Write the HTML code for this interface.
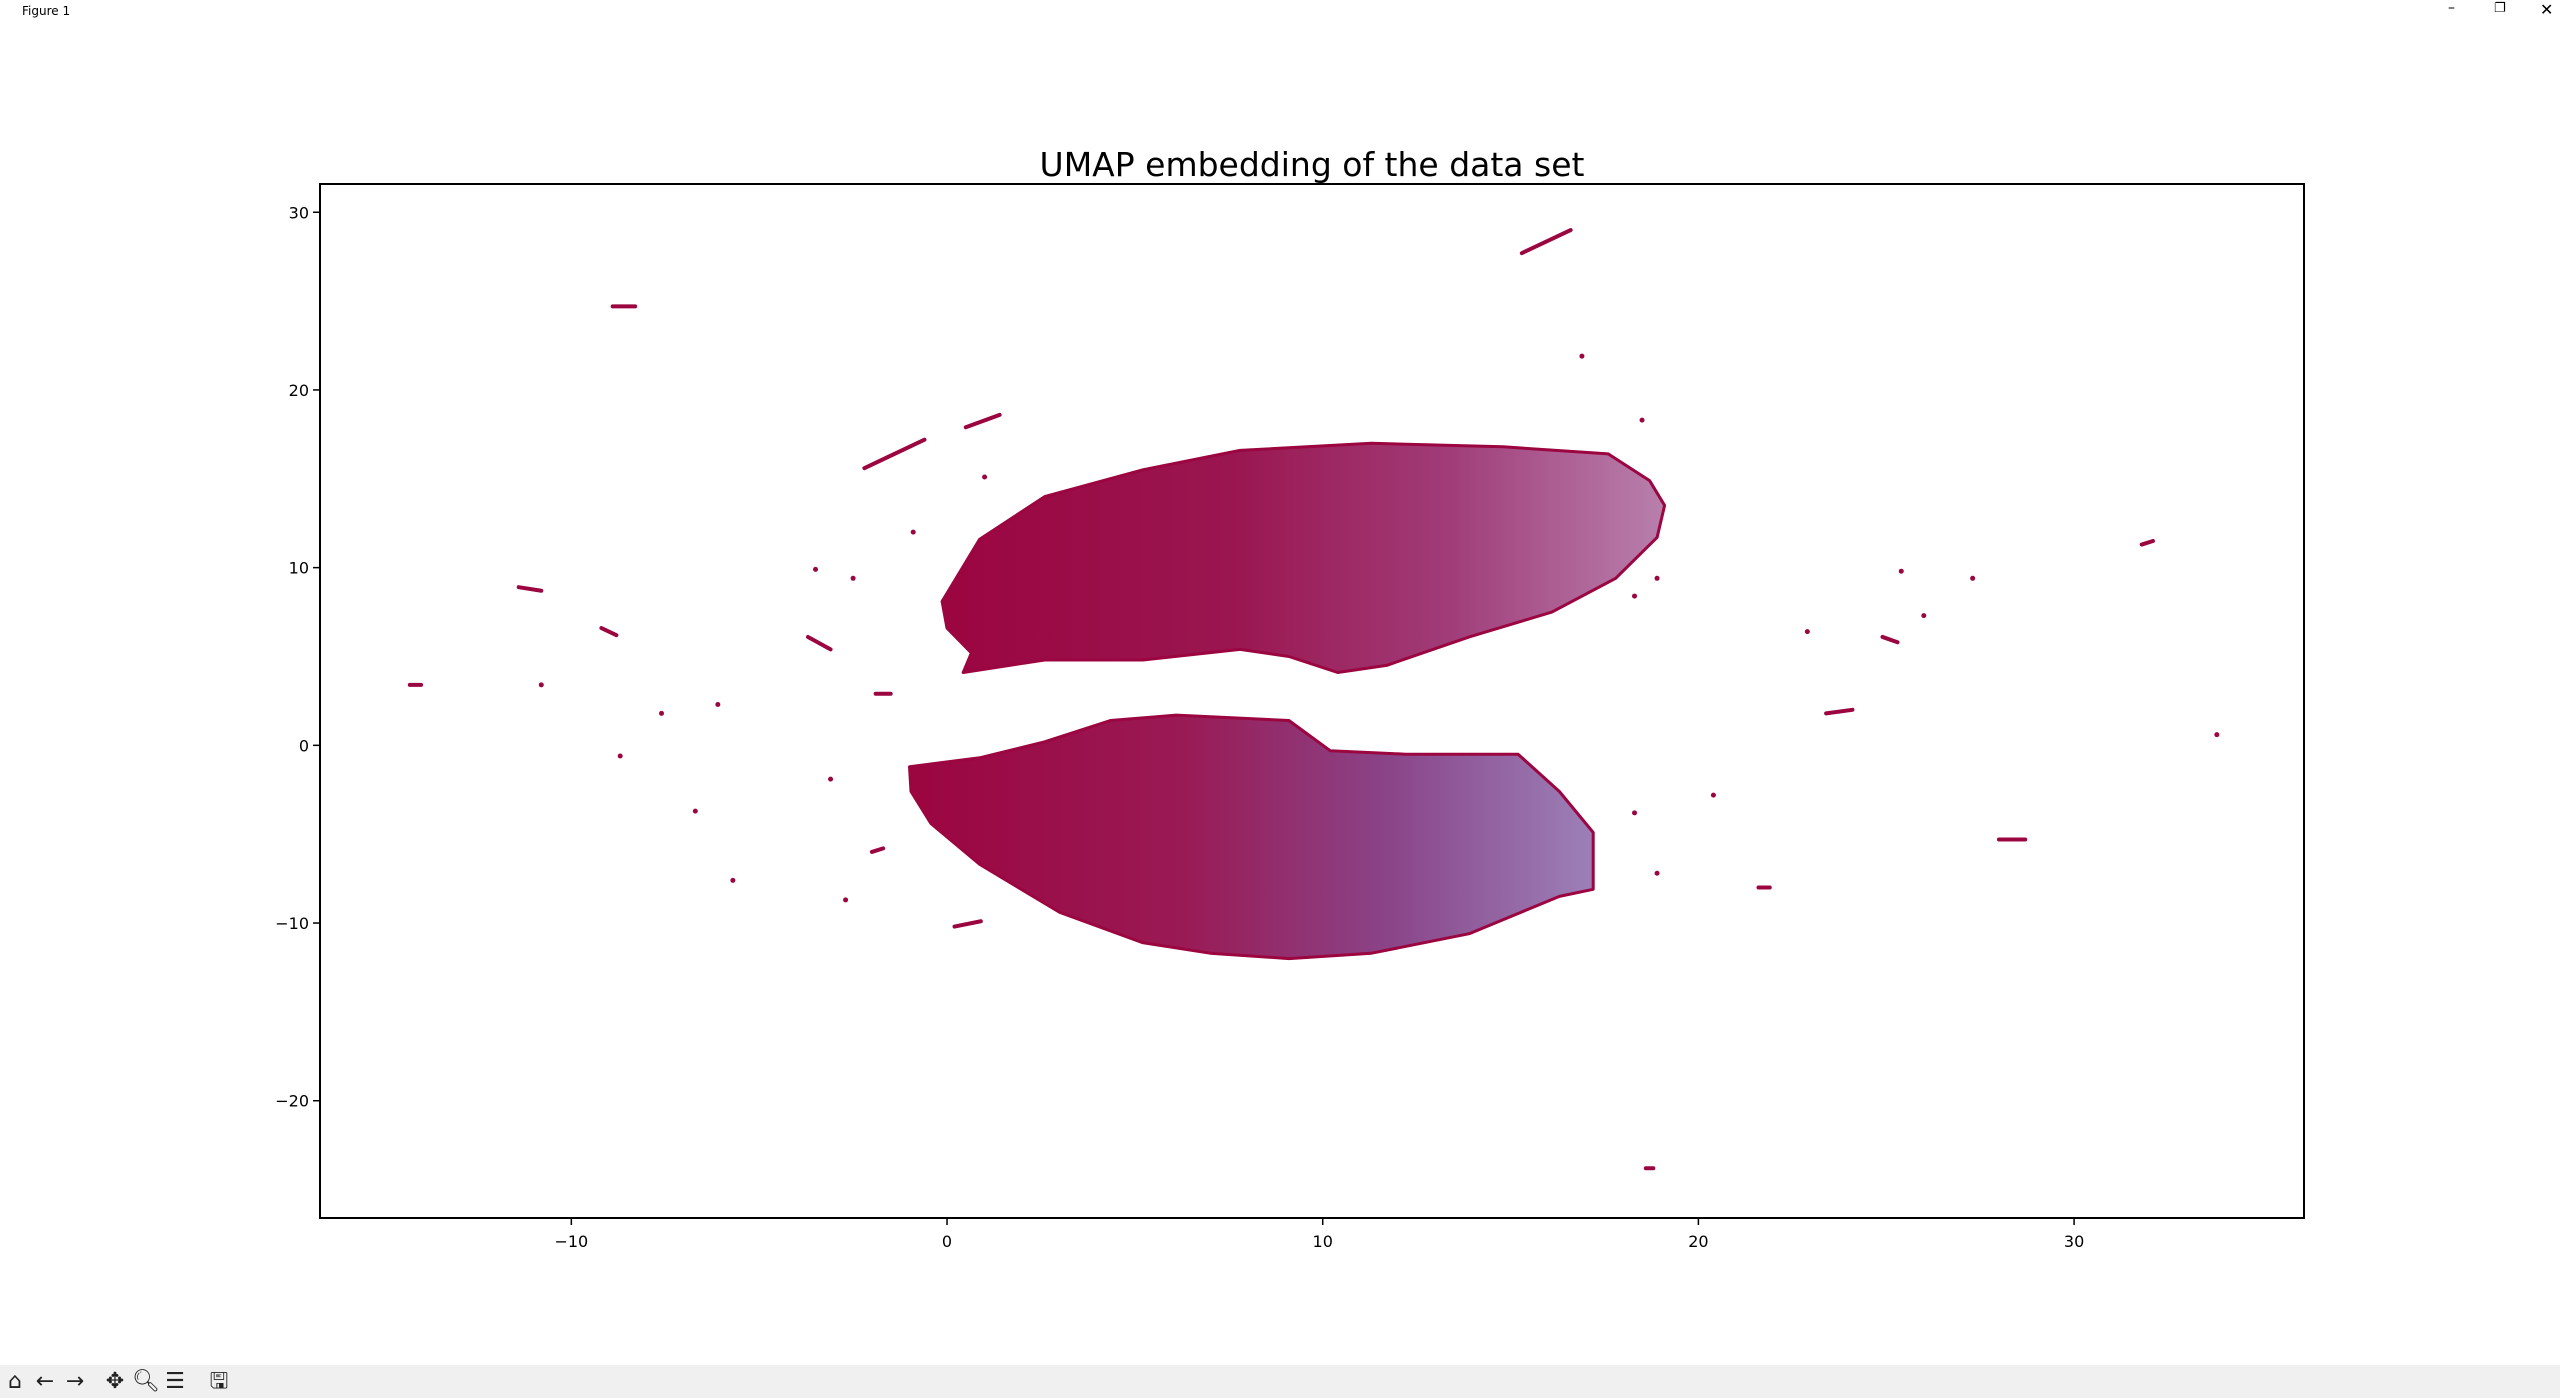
<!DOCTYPE html>
<html><head><meta charset="utf-8"><style>
html,body{margin:0;padding:0;background:#fff;width:2560px;height:1398px;overflow:hidden;font-family:"DejaVu Sans","Liberation Sans",sans-serif}
#titlebar{position:absolute;left:0;top:0;width:2560px;height:24px;background:#fff}
#toolbar{position:absolute;left:0;top:1365px;width:2560px;height:33px;background:#f0f0f0}
.tb{position:absolute;top:4px;width:26px;height:26px;font-size:22px;line-height:26px;text-align:center;color:#222}
</style></head><body>
<div id="titlebar">
 <span style="position:absolute;left:22px;top:4px;font-size:12px;color:#000">Figure 1</span>
 <span style="position:absolute;left:2448px;top:0;font-size:14px">–</span>
 <span style="position:absolute;left:2494px;top:1px;font-size:13px">❐</span>
 <span style="position:absolute;left:2540px;top:0;font-size:16px">✕</span>
</div>
<svg id="chart" width="2560" height="1398" style="position:absolute;left:0;top:0">
 <defs>
  <linearGradient id="gu" x1="0" x2="1" y1="0" y2="0">
   <stop offset="0" stop-color="#9b0540"/><stop offset="0.4" stop-color="#9a1650"/>
   <stop offset="0.7" stop-color="#a03c78"/><stop offset="1" stop-color="#b880ac"/>
  </linearGradient>
  <linearGradient id="gl" x1="0" x2="1" y1="0" y2="0">
   <stop offset="0" stop-color="#9b0540"/><stop offset="0.4" stop-color="#9a1a55"/>
   <stop offset="0.7" stop-color="#8a4488"/><stop offset="1" stop-color="#9c80b8"/>
  </linearGradient>
 </defs>
 <text x="1312" y="176" font-size="33" text-anchor="middle" fill="#000">UMAP embedding of the data set</text>
 <g id="marks"></g>
 <g id="axes"></g>
</svg>
<div id="toolbar">
 <div class="tb" style="left:2px">⌂</div>
 <div class="tb" style="left:32px">←</div>
 <div class="tb" style="left:62px">→</div>
 <div class="tb" style="left:102px">✥</div>
 <div class="tb" style="left:132px">🔍︎</div>
 <div class="tb" style="left:162px">☰</div>
 <div class="tb" style="left:206px">🖫</div>
</div>
<script>
const xTicks=[-10,0,10,20,30];
const yTicks=[-20,-10,0,10,20,30];
const upperBlobX=[-0.13,0.87,2.6,5.2,7.8,11.3,14.8,17.6,18.7,19.1,18.9,17.8,16.1,13.9,11.7,10.4,9.1,7.8,5.2,2.6,0.43,0.65,0];
const upperBlobY=[8.1,11.6,14,15.5,16.6,17,16.8,16.4,14.9,13.5,11.7,9.4,7.5,6.1,4.5,4.1,5.0,5.4,4.8,4.8,4.1,5.2,6.6];
const lowerBlobX=[-1.0,0.87,2.6,4.35,6.1,9.1,10.2,12.2,15.2,16.3,17.2,17.2,16.3,13.9,11.3,9.1,7.0,5.2,3.0,0.87,-0.43,-0.96];
const lowerBlobY=[-1.2,-0.7,0.2,1.4,1.7,1.4,-0.3,-0.5,-0.5,-2.6,-4.9,-8.1,-8.5,-10.6,-11.7,-12.0,-11.7,-11.1,-9.4,-6.7,-4.4,-2.6];
const segX1=[-8.9,15.3,0.5,-2.2,-11.4,-9.2,-3.7,-14.3,-1.9,-2.0,0.2,31.8,28.0,23.4,24.9,21.6,18.6];
const segY1=[24.7,27.7,17.9,15.6,8.9,6.6,6.1,3.4,2.9,-6.0,-10.2,11.3,-5.3,1.8,6.1,-8.0,-23.8];
const segX2=[-8.3,16.6,1.4,-0.6,-10.8,-8.8,-3.1,-14.0,-1.5,-1.7,0.9,32.1,28.7,24.1,25.3,21.9,18.8];
const segY2=[24.7,29.0,18.6,17.2,8.7,6.2,5.4,3.4,2.9,-5.8,-9.9,11.5,-5.3,2.0,5.8,-8.0,-23.8];
const ptX=[16.9,18.5,1.0,-0.9,-3.5,-2.5,-10.8,-7.6,-6.1,-8.7,-6.7,-5.7,-3.1,-2.7,33.8,22.9,25.4,26.0,27.3,20.4,18.9,18.3,18.9,18.3];
const ptY=[21.9,18.3,15.1,12.0,9.9,9.4,3.4,1.8,2.3,-0.6,-3.7,-7.6,-1.9,-8.7,0.6,6.4,9.8,7.3,9.4,-2.8,-7.2,-3.8,9.4,8.4];

const L=320,R=2304,T=184,B=1218,X0=-16.69,X1=36.12,Y0=-26.6,Y1=31.59;
const sx=v=>L+(v-X0)/(X1-X0)*(R-L);
const sy=v=>B-(v-Y0)/(Y1-Y0)*(B-T);
const NS='http://www.w3.org/2000/svg';
const marks=document.getElementById('marks'),axes=document.getElementById('axes');
function mk(tag,attrs,parent){const e=document.createElementNS(NS,tag);for(const k in attrs)e.setAttribute(k,attrs[k]);parent.appendChild(e);return e;}
function blob(xs,ys,fill,name){
 const pts=xs.map((x,i)=>sx(x).toFixed(1)+','+sy(ys[i]).toFixed(1)).join(' ');
 const p=mk('polygon',{points:pts,fill:fill,stroke:'#9b0540','stroke-width':3,'stroke-linejoin':'round'},marks);
 
 
}
blob(upperBlobX,upperBlobY,'url(#gu)','upper-cluster');
blob(lowerBlobX,lowerBlobY,'url(#gl)','lower-cluster');
segX1.forEach((x,i)=>{
 const l=mk('line',{x1:sx(x),y1:sy(segY1[i]),x2:sx(segX2[i]),y2:sy(segY2[i]),stroke:'#9b0540','stroke-width':4,'stroke-linecap':'round'},marks);
 
 
});
ptX.forEach((x,i)=>{
 const c=mk('circle',{cx:sx(x),cy:sy(ptY[i]),r:2.5,fill:'#9b0540'},marks);
 
 
});
const frame=mk('rect',{x:L,y:T,width:R-L,height:B-T,fill:'none',stroke:'#000','stroke-width':2},axes);


xTicks.forEach(v=>{
 const x=sx(v);
 const t=mk('line',{x1:x,y1:B,x2:x,y2:B+7,stroke:'#000','stroke-width':1.5},axes);
 
 
 const lb=mk('text',{x:x,y:B+29,'font-size':16,'text-anchor':'middle',fill:'#000'},axes);
 lb.textContent=(v<0?'−'+(-v):v);
 
 
});
yTicks.forEach(v=>{
 const y=sy(v);
 const t=mk('line',{x1:L-7,y1:y,x2:L,y2:y,stroke:'#000','stroke-width':1.5},axes);
 
 
 const lb=mk('text',{x:L-11,y:y+6,'font-size':16,'text-anchor':'end',fill:'#000'},axes);
 lb.textContent=(v<0?'−'+(-v):v);
 
 
});
</script>
</body></html>
